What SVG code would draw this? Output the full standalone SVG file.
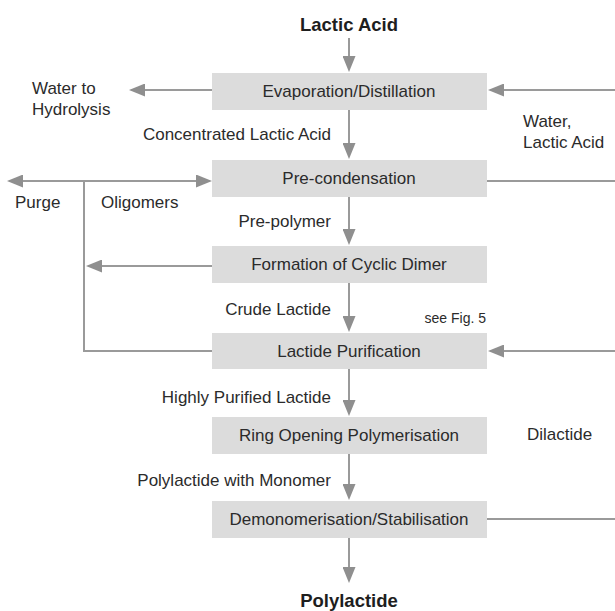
<svg xmlns="http://www.w3.org/2000/svg" width="615" height="611" viewBox="0 0 615 611">
  <style>
    .box { fill: #dcdcdc; }
    .lbl { font-family: "Liberation Sans", Arial, sans-serif; font-size: 17px; fill: #2b2b2b; }
    .mid { text-anchor: middle; }
    .end { text-anchor: end; }
    .title { font-family: "Liberation Sans", Arial, sans-serif; font-size: 18.5px; font-weight: bold; fill: #1e1e1e; text-anchor: middle; }
    .small { font-size: 14px; }
    .wire { stroke: #9a9a9a; stroke-width: 2; fill: none; }
    .arrow { marker-end: url(#head); }
  </style>
  <defs>
    <marker id="head" markerUnits="userSpaceOnUse" markerWidth="16" markerHeight="13" refX="6" refY="6.5" orient="auto">
      <path d="M0,0 L16,6.5 L0,13 z" fill="#8f8f8f"/>
    </marker>
    <marker id="tail" markerUnits="userSpaceOnUse" markerWidth="16" markerHeight="13" refX="10" refY="6.5" orient="auto">
      <path d="M16,0 L0,6.5 L16,13 z" fill="#8f8f8f"/>
    </marker>
  </defs>

  <rect width="615" height="611" fill="#ffffff"/>

  <!-- connectors -->
  <g id="connectors" class="wire">
    <!-- main vertical flow -->
    <line class="arrow" x1="349" y1="38" x2="349" y2="62"/>
    <line class="arrow" x1="349" y1="110" x2="349" y2="149"/>
    <line class="arrow" x1="349" y1="197" x2="349" y2="235"/>
    <line class="arrow" x1="349" y1="283" x2="349" y2="322"/>
    <line class="arrow" x1="349" y1="369" x2="349" y2="406"/>
    <line class="arrow" x1="349" y1="454" x2="349" y2="490"/>
    <line class="arrow" x1="349" y1="538" x2="349" y2="573"/>
    <!-- side streams -->
    <line class="arrow" x1="212" y1="90" x2="139" y2="90"/>
    <line class="arrow" x1="615" y1="90" x2="498" y2="90"/>
    <line x1="17" y1="181" x2="202" y2="181" marker-start="url(#tail)" marker-end="url(#head)"/>
    <line x1="487" y1="181" x2="615" y2="181"/>
    <line class="arrow" x1="212" y1="266" x2="96" y2="266"/>
    <polyline points="84,181 84,351 212,351"/>
    <line class="arrow" x1="615" y1="351" x2="498" y2="351"/>
    <line x1="487" y1="519" x2="615" y2="519"/>
  </g>

  <!-- process steps -->
  <g id="evaporation">
    <rect class="box" x="212" y="73" width="275" height="37"/>
    <text class="lbl mid" x="349" y="97">Evaporation/Distillation</text>
  </g>
  <g id="precondensation">
    <rect class="box" x="212" y="160" width="275" height="37"/>
    <text class="lbl mid" x="349" y="184">Pre-condensation</text>
  </g>
  <g id="cyclic-dimer">
    <rect class="box" x="212" y="246" width="275" height="37"/>
    <text class="lbl mid" x="349" y="270">Formation of Cyclic Dimer</text>
  </g>
  <g id="purification">
    <rect class="box" x="212" y="333" width="275" height="36"/>
    <text class="lbl mid" x="349" y="357">Lactide Purification</text>
  </g>
  <g id="polymerisation">
    <rect class="box" x="212" y="417" width="275" height="37"/>
    <text class="lbl mid" x="349" y="441">Ring Opening Polymerisation</text>
  </g>
  <g id="stabilisation">
    <rect class="box" x="212" y="501" width="275" height="37"/>
    <text class="lbl mid" x="349" y="525">Demonomerisation/Stabilisation</text>
  </g>

  <!-- feed and product -->
  <g id="feed"><text class="title" x="349" y="31">Lactic Acid</text></g>
  <g id="product"><text class="title" x="349" y="607">Polylactide</text></g>

  <!-- stream labels -->
  <g id="labels" class="lbl">
    <text x="32" y="94">Water to</text>
    <text x="32" y="115">Hydrolysis</text>
    <text x="523" y="127">Water,</text>
    <text x="523" y="148">Lactic Acid</text>
    <text class="end" x="331" y="140">Concentrated Lactic Acid</text>
    <text x="15" y="208">Purge</text>
    <text x="101" y="208">Oligomers</text>
    <text class="end" x="331" y="227">Pre-polymer</text>
    <text class="end" x="331" y="315">Crude Lactide</text>
    <text class="end small" x="486" y="323">see Fig. 5</text>
    <text class="end" x="331" y="403">Highly Purified Lactide</text>
    <text x="527" y="440">Dilactide</text>
    <text class="end" x="331" y="486">Polylactide with Monomer</text>
  </g>
</svg>
